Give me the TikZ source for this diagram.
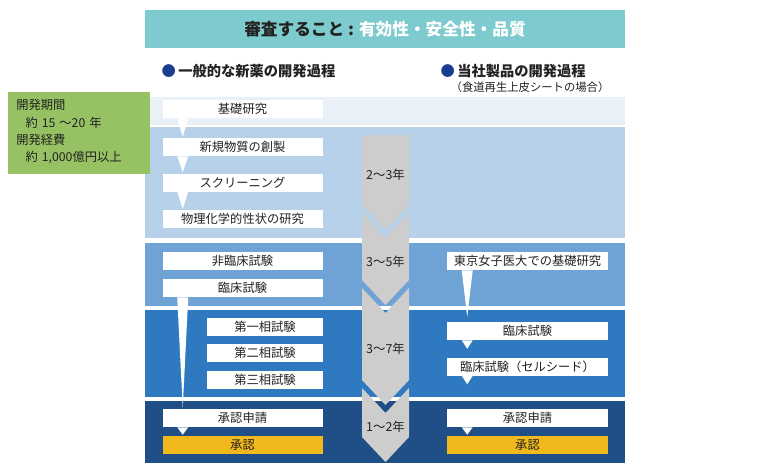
\documentclass[tikz,border=0pt]{standalone}
\usepackage{fontspec}
\setmainfont{Noto Sans CJK JP}
\usetikzlibrary{calc}
\definecolor{headteal}{HTML}{7DCBCE}
\definecolor{bandA}{HTML}{EAF0F8}
\definecolor{bandB}{HTML}{B7D1EB}
\definecolor{bandC}{HTML}{6FA3D6}
\definecolor{bandD}{HTML}{2E79C0}
\definecolor{bandE}{HTML}{1F4F86}
\definecolor{chevgray}{HTML}{CDCDCD}
\definecolor{okyellow}{HTML}{F2B91C}
\definecolor{costgreen}{HTML}{96C263}
\definecolor{dotblue}{HTML}{1A3D8F}
\definecolor{textgray}{HTML}{222222}
\tikzset{
  box/.style={fill=white, minimum width=120pt, minimum height=13.5pt, inner sep=0pt,
    text=textgray, font=\fontsize{9.2}{10}\selectfont},
  phasebox/.style={box, minimum width=87pt},
  rbox/.style={box, minimum width=120.75pt},
  okbox/.style={box, fill=okyellow},
  years/.style={text=textgray, font=\fontsize{9.3}{10}\selectfont},
  heading/.style={anchor=west, text=textgray, font=\fontsize{10.7}{12}\selectfont\bfseries}
}
\begin{document}
\begin{tikzpicture}[x=0.75pt, y=-0.75pt]
  \newcommand\chL{362}
  \newcommand\chM{385.5}
  \newcommand\chR{409}
  \newcommand\dep{25}
  \useasboundingbox (0,0) rectangle (768,475);

  % header
  \fill[headteal] (145,10) rectangle (625,48);
  \node[font=\fontsize{12.5}{14}\selectfont\bfseries] (head) at (385,29)
    {{\color{textgray}審査すること : }{\color{white}有効性・安全性・品質}};
  \node[heading] (hLeft) at (157,71) {{\color{dotblue}●}\,一般的な新薬の開発過程};
  \node[heading] (hRight) at (436,71) {{\color{dotblue}●}\,当社製品の開発過程};
  \node[anchor=west, text=textgray, font=\fontsize{8.5}{10}\selectfont] (hSub) at (446,87)
    {（食道再生上皮シートの場合）};

  % bands
  \fill[bandA] (145,97) rectangle (625,125);
  \fill[bandB] (145,127) rectangle (625,238);
  \fill[bandC] (145,243) rectangle (625,306);
  \fill[bandD] (145,310) rectangle (625,397);
  \fill[bandE] (145,401) rectangle (625,463);

  % chevrons
  \fill[chevgray] (\chL,135) -- (\chR,135) -- (\chR,205) -- (\chM,205+\dep) -- (\chL,205) -- cycle;
  \fill[chevgray] (\chL,213) -- (\chM,213+\dep) -- (\chR,213) -- (\chR,280) -- (\chM,280+\dep) -- (\chL,280) -- cycle;
  \fill[chevgray] (\chL,288) -- (\chM,288+\dep) -- (\chR,288) -- (\chR,380) -- (\chM,380+\dep) -- (\chL,380) -- cycle;
  \fill[chevgray] (\chL,388) -- (\chM,388+\dep) -- (\chR,388) -- (\chR,437) -- (\chM,437+\dep) -- (\chL,437) -- cycle;
  \node[years] (y1) at (\chM,175) {2～3年};
  \node[years] (y2) at (\chM,262) {3～5年};
  \node[years] (y3) at (\chM,349) {3～7年};
  \node[years] (y4) at (\chM,427) {1～2年};

  % period and cost
  \fill[costgreen] (8,92) rectangle (150,174);
  \node[anchor=north west, align=left, inner sep=0pt, text=textgray,
    font=\fontsize{9.2}{13.1}\selectfont] (cost) at (16,99)
    {開発期間\\\hspace{7pt}約\hspace{3pt}15\hspace{3pt}～20\hspace{3pt}年\\開発経費\\\hspace{7pt}約\hspace{3pt}1,000億円以上};

  % general process
  \node[box] (kiso) at (242.5,109) {基礎研究};
  \node[box] (shinki) at (242.5,147) {新規物質の創製};
  \node[box] (screen) at (242.5,182.5) {スクリーニング};
  \node[box] (bussei) at (242.5,219) {物理化学的性状の研究};
  \node[box] (hirinsho) at (242.5,261) {非臨床試験};
  \node[box] (rinsho) at (242.5,288) {臨床試験};
  \node[phasebox] (p1) at (265,327) {第一相試験};
  \node[phasebox] (p2) at (265,353) {第二相試験};
  \node[phasebox] (p3) at (265,380) {第三相試験};
  \node[box] (shinsei) at (242.5,418) {承認申請};
  \node[okbox] (shonin) at (242.5,445) {承認};

  % our product
  \node[rbox] (rKiso) at (527.5,261) {東京女子医大での基礎研究};
  \node[rbox] (rRinsho) at (527.5,331) {臨床試験};
  \node[rbox] (rCell) at (527.5,366.5) {臨床試験（セルシード）};
  \node[rbox] (rShinsei) at (527.5,418) {承認申請};
  \node[okbox, minimum width=120.75pt] (rShonin) at (527.5,445) {承認};

  % callout tails
  \newcommand\tail[3]{\fill[white] ($(#1.south west)+(15,0)$) -- ($(#1.south west)+(26,0)$)
    -- ($(#2.north west)+(20.5,#3)$) -- cycle;}
  \newcommand\stub[1]{\fill[white] ($(#1.south west)+(15,0)$) -- ($(#1.south west)+(26,0)$)
    -- ($(#1.south west)+(20.5,8.5)$) -- cycle;}
  \tail{kiso}{shinki}{-1}
  \tail{shinki}{screen}{-1}
  \tail{screen}{bussei}{-1}
  \tail{rinsho}{shinsei}{-1}
  \tail{shinsei}{shonin}{-1}
  \tail{rKiso}{rRinsho}{-5}
  \stub{rRinsho}
  \stub{rCell}
  \tail{rShinsei}{rShonin}{-1}
\end{tikzpicture}
\end{document}
